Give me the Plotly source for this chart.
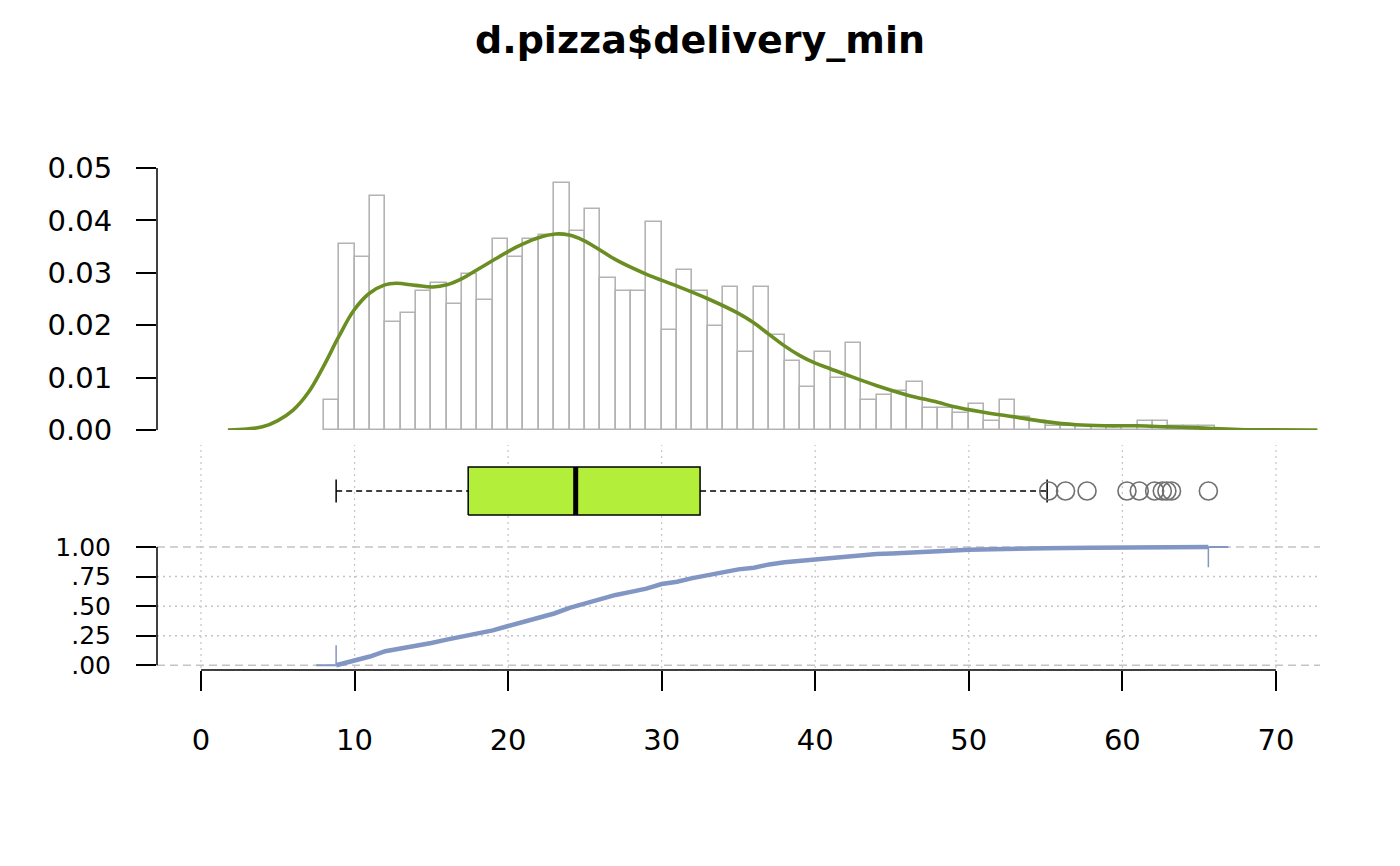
import plotly.graph_objects as go

# ---------------- data ----------------
title_text = "d.pizza$delivery_min"
n_obs = 1209

bin_left = list(range(8, 66))
bin_counts = [7, 43, 40, 54, 25, 27, 32, 34, 29, 36, 30, 44, 40, 44, 45, 57, 46, 51,
              35, 32, 32, 48, 23, 37, 32, 24, 33, 18, 33, 22, 16, 10, 18, 12, 20, 7,
              8, 9, 11, 5, 5, 4, 6, 2, 7, 3, 2, 1, 1, 1, 1, 1, 1, 2, 2, 1, 1, 1]

dens_x = [1.75, 3, 4, 5, 6, 7, 7.97, 8.97, 9.97, 10.97, 11.97, 12.7, 13.97, 15.1, 16,
          17, 17.93, 18.97, 19.97, 20.97, 21.97, 23.1, 23.97, 24.9, 25.9, 27, 29.02,
          30.97, 32.97, 34.97, 35.97, 36.97, 37.97, 39.0, 39.97, 40.97, 41.97, 43.97,
          45.97, 47.97, 48.97, 50.97, 52.97, 54.97, 56.97, 58.97, 60.97, 62.97, 64.97,
          67.6, 72.7]
dens_y = [0.0, 0.0002, 0.0006, 0.0018, 0.0038, 0.0072, 0.0121, 0.0178, 0.0229, 0.0261,
          0.0277, 0.0280, 0.0276, 0.0273, 0.0277, 0.0289, 0.0305, 0.0323, 0.0340, 0.0355,
          0.0367, 0.0374, 0.0372, 0.0362, 0.0345, 0.0325, 0.0297, 0.0275, 0.0251, 0.0223,
          0.0205, 0.0183, 0.0161, 0.0142, 0.0128, 0.0117, 0.0106, 0.0085, 0.0067, 0.0053,
          0.0045, 0.0034, 0.0025, 0.0016, 0.0010, 0.0008, 0.0008, 0.0006, 0.0004, 0.0001,
          0.0]

box_lower_whisker = 8.8
box_q1 = 17.4
box_median = 24.4
box_q3 = 32.5
box_upper_whisker = 55.1
outliers = [55.2, 56.3, 57.7, 60.3, 61.1, 62.1, 62.6, 62.9, 63.2, 65.6]

ecdf_x = [8.8, 9, 10, 11, 12, 13, 14, 15, 16, 17, 18, 19, 20, 21, 22, 23, 24, 25, 26,
          27, 28, 29, 30, 31, 32, 33, 34, 35, 36, 37, 38, 39, 40, 41, 42, 43, 44, 45,
          46, 47, 48, 49, 50, 52, 55, 58, 61, 63, 65.6]
ecdf_y = [0.0, 0.006, 0.041, 0.074, 0.119, 0.140, 0.162, 0.189, 0.217, 0.241, 0.270,
          0.295, 0.332, 0.365, 0.401, 0.438, 0.486, 0.524, 0.566, 0.595, 0.621, 0.648,
          0.687, 0.706, 0.737, 0.763, 0.783, 0.811, 0.825, 0.853, 0.871, 0.884, 0.892,
          0.907, 0.917, 0.934, 0.940, 0.946, 0.954, 0.963, 0.967, 0.971, 0.976, 0.984,
          0.990, 0.993, 0.995, 0.998, 1.0]
ecdf_ext_left = 7.5
ecdf_ext_right = 66.9
ecdf_marker_len = 0.17

x_ticks = [0, 10, 20, 30, 40, 50, 60, 70]
hist_ticks = [0.0, 0.01, 0.02, 0.03, 0.04, 0.05]
hist_labels = ["0.00", "0.01", "0.02", "0.03", "0.04", "0.05"]
ecdf_ticks = [0.0, 0.25, 0.5, 0.75, 1.0]
ecdf_labels = [".00", ".25", ".50", ".75", "1.00"]

# ---------------- style ----------------
W, H = 1400, 866
FONT = "DejaVu Sans"
TICKSIZE = 29
HIST_LINE = "#B3B3B3"
DENS_COL = "#6B8E23"
BOX_COL = "#B3EE3A"
ECDF_COL = "#8296C4"
GRID_COL = "#C4C4C4"


def py(px):
    return 1 - px / H


fig = go.Figure()

# histogram
fig.add_trace(go.Bar(
    x=[b + 0.5 for b in bin_left], y=[c / n_obs for c in bin_counts], width=1,
    marker=dict(color="rgba(255,255,255,0)", line=dict(color=HIST_LINE, width=1.6)),
    xaxis="x", yaxis="y", showlegend=False, hoverinfo="skip"))
# density
fig.add_trace(go.Scatter(
    x=dens_x, y=dens_y, mode="lines",
    line=dict(color=DENS_COL, width=3.6, shape="spline", smoothing=1.1),
    xaxis="x", yaxis="y", showlegend=False))

# boxplot (y2, centered at 0)
bh = 0.52
ch = 0.25
fig.add_trace(go.Scatter(
    x=[box_q1, box_q3, box_q3, box_q1, box_q1], y=[-bh, -bh, bh, bh, -bh],
    mode="lines", fill="toself", fillcolor=BOX_COL, line=dict(color="black", width=1.5),
    xaxis="x", yaxis="y2", showlegend=False))
fig.add_trace(go.Scatter(
    x=[box_median, box_median], y=[-bh, bh], mode="lines",
    line=dict(color="black", width=5), xaxis="x", yaxis="y2", showlegend=False))
for a, b in [(box_lower_whisker, box_q1), (box_q3, box_upper_whisker)]:
    fig.add_trace(go.Scatter(
        x=[a, b], y=[0, 0], mode="lines",
        line=dict(color="black", width=1.5, dash="6px,4px"),
        xaxis="x", yaxis="y2", showlegend=False))
for w in [box_lower_whisker, box_upper_whisker]:
    fig.add_trace(go.Scatter(
        x=[w, w], y=[-ch, ch], mode="lines", line=dict(color="black", width=1.5),
        xaxis="x", yaxis="y2", showlegend=False))
fig.add_trace(go.Scatter(
    x=outliers, y=[0] * len(outliers), mode="markers",
    marker=dict(symbol="circle-open", size=18, color="#707070", line=dict(width=1.6)),
    xaxis="x", yaxis="y2", showlegend=False))

# ECDF (y3)
fig.add_trace(go.Scatter(
    x=[ecdf_ext_left, ecdf_x[0]], y=[0, 0], mode="lines",
    line=dict(color=ECDF_COL, width=2), xaxis="x", yaxis="y3", showlegend=False))
fig.add_trace(go.Scatter(
    x=[ecdf_x[-1], ecdf_ext_right], y=[1, 1], mode="lines",
    line=dict(color=ECDF_COL, width=2), xaxis="x", yaxis="y3", showlegend=False))
fig.add_trace(go.Scatter(
    x=ecdf_x, y=ecdf_y, mode="lines", line=dict(color=ECDF_COL, width=4.5),
    xaxis="x", yaxis="y3", showlegend=False))
fig.add_trace(go.Scatter(
    x=[ecdf_x[0], ecdf_x[0]], y=[0, ecdf_marker_len], mode="lines",
    line=dict(color=ECDF_COL, width=1.5), xaxis="x", yaxis="y3", showlegend=False))
fig.add_trace(go.Scatter(
    x=[ecdf_x[-1], ecdf_x[-1]], y=[1, 1 - ecdf_marker_len], mode="lines",
    line=dict(color=ECDF_COL, width=1.5), xaxis="x", yaxis="y3", showlegend=False))

shapes = []
# vertical dotted grid in box + ecdf panels
for v in x_ticks:
    shapes.append(dict(type="line", xref="x", yref="paper", x0=v, x1=v,
                       y0=py(668), y1=py(445), layer="below",
                       line=dict(color=GRID_COL, width=1.2, dash="2px,4px")))
# horizontal grid in ecdf panel
for v in ecdf_ticks:
    dash = "8px,5px" if v in (0.0, 1.0) else "2px,4px"
    shapes.append(dict(type="line", xref="paper", yref="y3", x0=0, x1=1, y0=v, y1=v,
                       layer="below", line=dict(color=GRID_COL, width=1.5, dash=dash)))
# axis lines (R style, spanning tick range only)
shapes.append(dict(type="line", xref="paper", yref="y", x0=0, x1=0,
                   y0=hist_ticks[0], y1=hist_ticks[-1], line=dict(color="black", width=1.5)))
shapes.append(dict(type="line", xref="paper", yref="y3", x0=0, x1=0,
                   y0=ecdf_ticks[0], y1=ecdf_ticks[-1], line=dict(color="black", width=1.5)))
shapes.append(dict(type="line", xref="x", yref="paper", x0=x_ticks[0], x1=x_ticks[-1],
                   y0=py(670), y1=py(670), line=dict(color="black", width=1.5)))

x_lo = -2.865
x_hi = 72.87
tickfont = dict(family=FONT, size=TICKSIZE, color="black")
ecdf_tickfont = dict(family=FONT, size=25, color="black")

fig.update_layout(
    template="none",
    width=W, height=H, autosize=False,
    margin=dict(l=157, r=80, t=0, b=0, pad=0),
    paper_bgcolor="white", plot_bgcolor="rgba(0,0,0,0)",
    bargap=0, showlegend=False,
    font=dict(family=FONT, color="black"),
    title=dict(text="<b>" + title_text + "</b>", x=0.5, xref="container", xanchor="center",
               y=py(40), yref="container", yanchor="middle", automargin=False,
               font=dict(family=FONT, size=38, color="black")),
    shapes=shapes,
    xaxis=dict(domain=[0, 1], range=[x_lo, x_hi], anchor="y3", automargin=False,
               tickvals=x_ticks, ticktext=[str(t) for t in x_ticks],
               ticks="outside", ticklen=20, tickwidth=1.5, tickcolor="black",
               showline=False, showgrid=False, zeroline=False,
               tickfont=tickfont, ticklabelstandoff=24),
    yaxis=dict(domain=[py(430), py(160)], range=[0, (430 - 160) / 5240], anchor="x",
               automargin=False,
               tickvals=hist_ticks, ticktext=hist_labels,
               ticks="outside", ticklen=20, tickwidth=1.5, tickcolor="black",
               showline=False, showgrid=False, zeroline=False,
               tickfont=tickfont, ticklabelstandoff=18),
    yaxis2=dict(domain=[py(537), py(445)], range=[-1, 1], anchor="x", automargin=False,
                showticklabels=False, ticks="", showline=False, showgrid=False,
                zeroline=False),
    yaxis3=dict(domain=[py(670), py(542.3)], range=[-0.04, 1.04], anchor="x",
                automargin=False,
                tickvals=ecdf_ticks, ticktext=ecdf_labels,
                ticks="outside", ticklen=20, tickwidth=1.5, tickcolor="black",
                showline=False, showgrid=False, zeroline=False,
                tickfont=ecdf_tickfont, ticklabelstandoff=20),
)

fig.write_html("out.html", config={"displayModeBar": False},
               post_script="document.body.style.margin='0px';")
